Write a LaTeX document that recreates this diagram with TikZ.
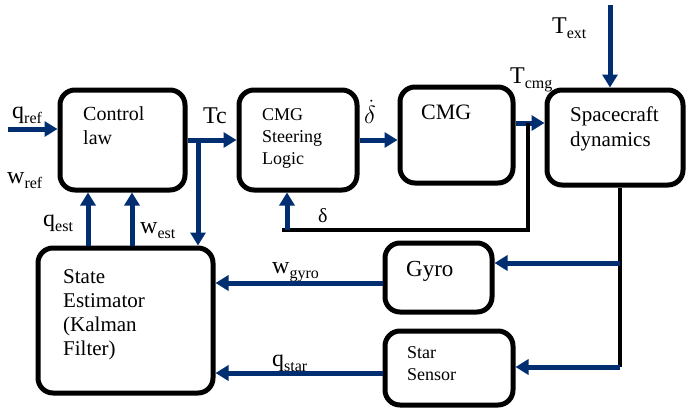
\documentclass[tikz,border=0pt]{standalone}
\usepackage{fontspec}
\setmainfont{Liberation Serif}
\usetikzlibrary{arrows.meta}
\definecolor{navy}{RGB}{0,46,112}
\newcommand\fs[2]{\fontsize{#1}{#2}\selectfont}
\newcommand\sbs[1]{\raisebox{-5pt}{\fs{16}{16}#1}}
\begin{document}
\begin{tikzpicture}[x=1pt,y=-1pt,
  box/.style={draw=black, line width=5pt, rounded corners=15pt, inner sep=0pt, anchor=north west},
  txt/.style={anchor=north west, inner sep=0pt, align=left},
  lab/.style={anchor=base west, inner sep=0pt, font=\fs{24}{24}},
  arr/.style={draw=navy, line width=5pt, -{Triangle[length=13pt,width=15pt]}},
  fb/.style={draw=black, line width=4pt}]
\useasboundingbox (0,0) rectangle (686,408);
% boxes
\node[box, minimum width=125pt, minimum height=100pt] (cl) at (57.5,87.5) {};
\node[box, minimum width=118pt, minimum height=100pt] (csl) at (236.5,87.5) {};
\node[box, minimum width=113pt, minimum height=96pt] (cmg) at (397.5,84.5) {};
\node[box, minimum width=136pt, minimum height=95pt] (sc) at (544.5,87.5) {};
\node[box, minimum width=175pt, minimum height=145pt] (se) at (35.5,245.5) {};
\node[box, minimum width=107pt, minimum height=69pt] (gy) at (382.5,240.5) {};
\node[box, minimum width=128pt, minimum height=74pt] (ss) at (382.5,328.5) {};
% box texts
\node[txt, font=\fs{20}{24}] (tcl) at (83,106) {Control\\law};
\node[txt, font=\fs{18}{22}] (tcsl) at (262,108) {CMG\\Steering\\Logic};
\node[txt, font=\fs{22}{26}] (tcmg) at (421,105) {CMG};
\node[txt, font=\fs{21}{25}] (tsc) at (570,107) {Spacecraft\\dynamics};
\node[txt, font=\fs{21}{24}] (tse) at (63,269) {State\\Estimator\\(Kalman\\Filter)};
\node[txt, font=\fs{23}{26}] (tgy) at (406,261) {Gyro};
\node[txt, font=\fs{18}{22}] (tss) at (407,346) {Star\\Sensor};
% labels
\node[lab] (lqref) at (12,118) {q\sbs{ref}};
\node[lab] (lwref) at (7,183) {w\sbs{ref}};
\node[lab] (lqest) at (43,226) {q\sbs{est}};
\node[lab] (lwest) at (140,233) {w\sbs{est}};
\node[lab] (ltc) at (203,123) {Tc};
\node[lab] (lddot) at (364,123) {$\dot{\delta}$};
\node[lab, font=\fs{20}{20}] (ldel) at (318,222) {δ};
\node[lab] (ltcmg) at (510,83) {T\sbs{cmg}};
\node[lab] (ltext) at (552,33) {T\sbs{ext}};
\node[lab] (lwgy) at (272,273) {w\sbs{gyro}};
\node[lab] (lqst) at (272,366) {q\sbs{star}};
% coordinates
\coordinate (qin) at (8,129);
\coordinate (br) at (198,137.5);
\coordinate (qx) at (88,0);
\coordinate (wx) at (132,0);
\coordinate (tcm) at (513,123);
\coordinate (fbt) at (528,123);
\coordinate (fbc) at (528,230);
\coordinate (fbl) at (282,230);
\coordinate (dup) at (287,230);
\coordinate (text) at (610,5);
\coordinate (scx) at (620,0);
\coordinate (sg) at (620,263);
\coordinate (sst) at (620,367);
\coordinate (gyy) at (0,283);
\coordinate (ssy) at (0,373);
% connectors
\draw[arr] (qin) -- (qin -| cl.west);
\draw[arr] (cl.east) -- (csl.west);
\draw[arr] (br) -- (br |- se.north);
\draw[arr] (se.north -| qx) -- (cl.south -| qx);
\draw[arr] (se.north -| wx) -- (cl.south -| wx);
\draw[arr] (csl.east) -- (csl.east -| cmg.west);
\draw[arr] (tcm -| cmg.east) -- (tcm -| sc.west);
\draw[fb] (fbt) -- (fbc) -- (fbl);
\draw[arr] (dup) -- (dup |- csl.south);
\draw[arr] (text) -- (text |- sc.north);
\draw[fb] (scx |- sc.south) -- (sst);
\draw[arr] (sg) -- (sg -| gy.east);
\draw[arr] (sst) -- (sst -| ss.east);
\draw[arr] (gyy -| gy.west) -- (gyy -| se.east);
\draw[arr] (ssy -| ss.west) -- (ssy -| se.east);
\end{tikzpicture}
\end{document}
